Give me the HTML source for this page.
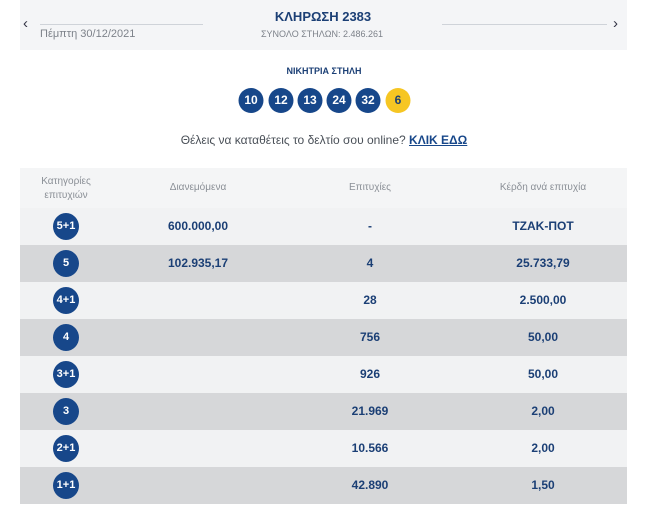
<!DOCTYPE html>
<html><head><meta charset="utf-8"><style>
*{margin:0;padding:0;box-sizing:border-box}
body{width:650px;height:518px;background:#fff;font-family:"Liberation Sans","DejaVu Sans",sans-serif;position:relative;overflow:hidden;color:#1b3f75}
.a{position:absolute}
.band{left:20px;top:0;width:607px;height:50px;background:#f4f5f7}
.line{height:1px;background:#cfd3d9;top:24px}
.c{transform:translateX(-50%);white-space:nowrap}
.ball{position:absolute;width:25px;height:25px;border-radius:50%;background:#17478a;color:#fff;font-weight:bold;font-size:12px;line-height:25px;text-align:center;top:88px;transform:translateX(-50%)}
.row{position:absolute;left:20px;width:607px;height:37px}
.cell{position:absolute;top:0;line-height:37px;font-weight:bold;font-size:12px;transform:translateX(-50%);color:#1b3f75;white-space:nowrap}
.cat{position:absolute;left:33px;top:5px;width:26px;height:27px;border-radius:50%;background:#17478a;color:#fff;font-weight:bold;font-size:11px;line-height:27px;text-align:center}
.h{position:absolute;font-size:10px;color:#8a8f96;transform:translateX(-50%);text-align:center;line-height:14px}
</style></head><body>
<div class="a band"></div>
<div class="a line" style="left:40px;width:163px"></div>
<div class="a line" style="left:442px;width:165px"></div>
<div class="a" style="left:23px;top:15px;font-size:15px;color:#334">&#8249;</div>
<div class="a" style="left:613px;top:15px;font-size:15px;color:#334">&#8250;</div>
<div class="a c" style="left:323px;top:9px;font-weight:bold;font-size:13px;color:#1b3f75">ΚΛΗΡΩΣΗ 2383</div>
<div class="a c" style="left:322px;top:29px;font-size:9px;color:#7d828a">ΣΥΝΟΛΟ ΣΤΗΛΩΝ: 2.486.261</div>
<div class="a" style="left:40px;top:28px;font-size:11px;color:#7d828a">Πέμπτη 30/12/2021</div>
<div class="a c" style="left:324px;top:66px;font-weight:bold;font-size:9px;color:#1b3f75">ΝΙΚΗΤΡΙΑ ΣΤΗΛΗ</div>
<div class="ball" style="left:251px">10</div>
<div class="ball" style="left:281px">12</div>
<div class="ball" style="left:310px">13</div>
<div class="ball" style="left:339px">24</div>
<div class="ball" style="left:368px">32</div>
<div class="ball" style="left:398px;background:#f6c623;color:#1b3f75">6</div>
<div class="a c" style="left:324px;top:133px;font-size:12px;color:#4a5058">Θέλεις να καταθέτεις το δελτίο σου online? <b style="color:#17478a;text-decoration:underline">ΚΛΙΚ ΕΔΩ</b></div>
<div class="a" style="left:20px;top:168px;width:607px;height:40px;background:#f4f5f6"></div>
<div class="h" style="left:66px;top:175px">Κατηγορίες<br>επιτυχιών</div>
<div class="h" style="left:198px;top:181px">Διανεμόμενα</div>
<div class="h" style="left:370px;top:181px">Επιτυχίες</div>
<div class="h" style="left:543px;top:181px">Κέρδη ανά επιτυχία</div>

<div class="row" style="top:208px;background:#f1f2f3"><div class="cat">5+1</div><div class="cell" style="left:178px">600.000,00</div><div class="cell" style="left:350px">-</div><div class="cell" style="left:523px">ΤΖΑΚ-ΠΟΤ</div></div>
<div class="row" style="top:245px;background:#d6d7d9"><div class="cat">5</div><div class="cell" style="left:178px">102.935,17</div><div class="cell" style="left:350px">4</div><div class="cell" style="left:523px">25.733,79</div></div>
<div class="row" style="top:282px;background:#f1f2f3"><div class="cat">4+1</div><div class="cell" style="left:350px">28</div><div class="cell" style="left:523px">2.500,00</div></div>
<div class="row" style="top:319px;background:#d6d7d9"><div class="cat">4</div><div class="cell" style="left:350px">756</div><div class="cell" style="left:523px">50,00</div></div>
<div class="row" style="top:356px;background:#f1f2f3"><div class="cat">3+1</div><div class="cell" style="left:350px">926</div><div class="cell" style="left:523px">50,00</div></div>
<div class="row" style="top:393px;background:#d6d7d9"><div class="cat">3</div><div class="cell" style="left:350px">21.969</div><div class="cell" style="left:523px">2,00</div></div>
<div class="row" style="top:430px;background:#f1f2f3"><div class="cat">2+1</div><div class="cell" style="left:350px">10.566</div><div class="cell" style="left:523px">2,00</div></div>
<div class="row" style="top:467px;background:#d6d7d9"><div class="cat">1+1</div><div class="cell" style="left:350px">42.890</div><div class="cell" style="left:523px">1,50</div></div>
</body></html>
